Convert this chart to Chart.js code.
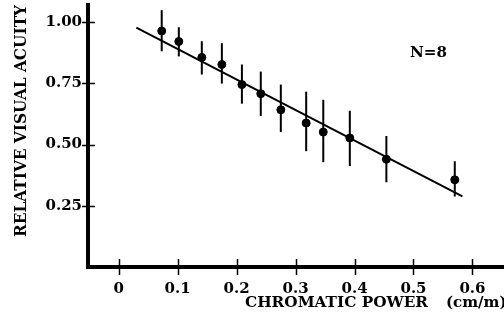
<!DOCTYPE html>
<html>
<head>
<meta charset="utf-8">
<script src="https://cdn.jsdelivr.net/npm/chart.js@4"></script>
<style>
html,body{margin:0;padding:0;background:#fff;overflow:hidden;}
#wrap{width:504px;height:320px;position:relative;}
</style>
</head>
<body>
<div id="wrap"><canvas id="c" width="504" height="320"></canvas></div>
<script>
// ---- data ----
const powerX   = [0.073, 0.102, 0.141, 0.175, 0.209, 0.241, 0.275, 0.318, 0.347, 0.392, 0.454, 0.570];
const acuityY  = [0.964, 0.921, 0.856, 0.827, 0.745, 0.708, 0.642, 0.588, 0.551, 0.527, 0.440, 0.356];
const errHigh  = [1.049, 0.979, 0.922, 0.914, 0.827, 0.798, 0.745, 0.716, 0.683, 0.638, 0.535, 0.432];
const errLow   = [0.881, 0.860, 0.786, 0.749, 0.667, 0.617, 0.551, 0.473, 0.428, 0.412, 0.346, 0.288];
const fitX     = [0.030, 0.583];
const fitY     = [0.978, 0.288];
const xTicks   = [0, 0.1, 0.2, 0.3, 0.4, 0.5, 0.6];
const yTicks   = [0.25, 0.50, 0.75, 1.00];
const xTitle   = 'CHROMATIC POWER';
const xUnit    = '(cm/m)';
const yTitle   = 'RELATIVE VISUAL ACUITY';
const noteText = 'N=8';

const FONT = '"DejaVu Serif", "Liberation Serif", serif';

const errorBars = {
  id: 'errorBars',
  beforeDatasetsDraw(chart) {
    const ctx = chart.ctx, xs = chart.scales.x, ys = chart.scales.y;
    ctx.save();
    ctx.strokeStyle = '#000';
    ctx.lineWidth = 2;
    for (let i = 0; i < powerX.length; i++) {
      const px = xs.getPixelForValue(powerX[i]);
      ctx.beginPath();
      ctx.moveTo(px, ys.getPixelForValue(errHigh[i]));
      ctx.lineTo(px, ys.getPixelForValue(errLow[i]));
      ctx.stroke();
    }
    ctx.restore();
  }
};

const decorations = {
  id: 'decorations',
  afterDraw(chart) {
    const ctx = chart.ctx, xs = chart.scales.x, ys = chart.scales.y, a = chart.chartArea;
    ctx.save();
    ctx.strokeStyle = '#000';
    // extend bottom axis line to the right edge of the canvas
    ctx.lineWidth = 4;
    ctx.beginPath(); ctx.moveTo(a.left, a.bottom); ctx.lineTo(chart.width, a.bottom); ctx.stroke();
    ctx.lineWidth = 1.5;
    // cross ticks
    xTicks.forEach(v => {
      const px = Math.round(xs.getPixelForValue(v)) + 0.5;
      ctx.beginPath(); ctx.moveTo(px, a.bottom - 8); ctx.lineTo(px, a.bottom + 8); ctx.stroke();
    });
    yTicks.forEach(v => {
      const py = Math.round(ys.getPixelForValue(v)) + 0.5;
      ctx.beginPath(); ctx.moveTo(a.left - 6, py); ctx.lineTo(a.left + 7, py); ctx.stroke();
    });
    ctx.fillStyle = '#000';
    // x title
    ctx.font = 'bold 15px ' + FONT;
    ctx.textBaseline = 'alphabetic';
    ctx.textAlign = 'left';
    let w = ctx.measureText(xTitle).width;
    ctx.save(); ctx.translate(245, 307); ctx.scale(183 / w, 1); ctx.fillText(xTitle, 0, 0); ctx.restore();
    ctx.font = 'bold 15px ' + FONT;
    ctx.fillText(xUnit, 446, 307);
    // y title
    ctx.font = 'bold 17px ' + FONT;
    w = ctx.measureText(yTitle).width;
    ctx.save(); ctx.translate(26, 121); ctx.rotate(-Math.PI / 2); ctx.scale(232 / w, 1);
    ctx.textAlign = 'center'; ctx.fillText(yTitle, 0, 0); ctx.restore();
    // note
    ctx.font = 'bold 14px ' + FONT;
    ctx.textAlign = 'left';
    w = ctx.measureText(noteText).width;
    ctx.save(); ctx.translate(410, 57); ctx.scale(37 / w, 1); ctx.fillText(noteText, 0, 0); ctx.restore();
    ctx.restore();
  }
};

new Chart(document.getElementById('c'), {
  type: 'scatter',
  data: {
    datasets: [
      {
        type: 'line',
        data: fitX.map((x, i) => ({x, y: fitY[i]})),
        borderColor: '#000', borderWidth: 2, pointRadius: 0, fill: false
      },
      {
        data: powerX.map((x, i) => ({x, y: acuityY[i]})),
        backgroundColor: '#000', borderColor: '#000', pointRadius: 4, pointHoverRadius: 4
      }
    ]
  },
  options: {
    responsive: false,
    animation: false,
    events: [],
    layout: { padding: { top: 5, left: 0, right: 0, bottom: 0 } },
    plugins: { legend: { display: false }, tooltip: { enabled: false } },
    scales: {
      x: {
        type: 'linear', min: -0.052, max: 0.645,
        afterBuildTicks(s) { s.ticks = xTicks.map(v => ({value: v})); },
        afterFit(s) { s.height = 53; s.paddingLeft = 0; s.paddingRight = 0; },
        grid: { display: false, drawTicks: false, tickLength: 0 },
        border: { display: true, color: '#000', width: 4 },
        ticks: {
          color: '#000', padding: 13, maxRotation: 0, autoSkip: false,
          font: { family: FONT, size: 15, weight: 'bold' },
          callback: v => (v === 0 ? '0' : v.toFixed(1))
        }
      },
      y: {
        type: 'linear', min: 0, max: 1.07,
        afterBuildTicks(s) { s.ticks = yTicks.map(v => ({value: v})); },
        afterFit(s) { s.width = 88; s.paddingTop = 0; s.paddingBottom = 0; },
        grid: { display: false, drawTicks: false, tickLength: 0 },
        border: { display: true, color: '#000', width: 4 },
        ticks: {
          color: '#000', padding: 6, autoSkip: false,
          font: { family: FONT, size: 15, weight: 'bold' },
          callback: v => v.toFixed(2)
        }
      }
    }
  },
  plugins: [errorBars, decorations]
});
</script>
</body>
</html>
